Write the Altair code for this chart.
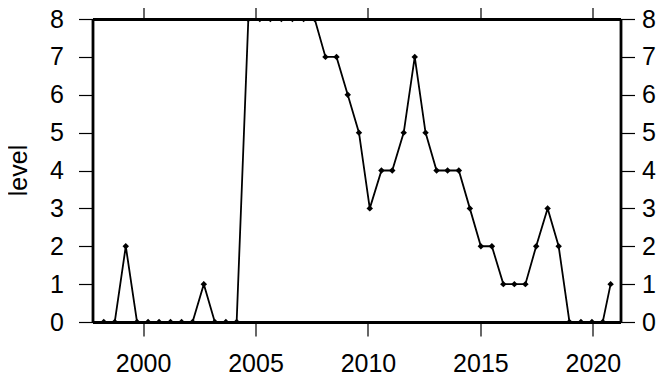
import altair as alt
import pandas as pd

years = [1998.25, 1998.74, 1999.23, 1999.73, 2000.22, 2000.71, 2001.22, 2001.71,
         2002.20, 2002.70, 2003.19, 2003.68, 2004.16, 2004.68, 2005.19, 2005.66,
         2006.15, 2006.64, 2007.14, 2007.63, 2008.11, 2008.60, 2009.10, 2009.60,
         2010.08, 2010.60, 2011.08, 2011.59, 2012.08, 2012.56, 2013.05, 2013.54,
         2014.04, 2014.53, 2015.02, 2015.51, 2016.02, 2016.51, 2017.00, 2017.48,
         2017.99, 2018.48, 2018.96, 2019.47, 2019.96, 2020.44, 2020.79]
levels = [0, 0, 2, 0, 0, 0, 0, 0, 0, 1, 0, 0, 0, 8, 8, 8, 8, 8, 8, 8, 7, 7, 6, 5,
          3, 4, 4, 5, 7, 5, 4, 4, 4, 3, 2, 2, 1, 1, 1, 2, 3, 2, 0, 0, 0, 0, 1]
x_ticks = [2000, 2005, 2010, 2015, 2020]
y_ticks = [0, 1, 2, 3, 4, 5, 6, 7, 8]

df = pd.DataFrame({"year": years, "level": levels})

xscale = alt.Scale(domain=[1997.75, 2021.23], nice=False, zero=False)
yscale = alt.Scale(domain=[0, 8], nice=False, zero=False)

FONT = "Liberation Sans"
common = dict(domain=True, domainColor="black", domainWidth=2.8, grid=False,
              tickColor="black", tickWidth=1.2, tickSize=14,
              labelColor="black", labelFont=FONT, labelFontSize=25)

x_bottom = alt.Axis(orient="bottom", values=x_ticks, format="d", title=None,
                    labelPadding=15, labelFlush=False, labelOverlap=False, **common)
x_top = alt.Axis(orient="top", values=x_ticks, labels=False, title=None, **common)
y_left = alt.Axis(orient="left", values=y_ticks, title="level", labelPadding=15,
                  titleFont=FONT, titleFontSize=25, titleFontWeight="normal",
                  titleColor="black", titleX=-66, titleY=151, titleAngle=270,
                  titleBaseline="alphabetic", titleAlign="center",
                  labelFlush=False, labelOverlap=False, **common)
y_right = alt.Axis(orient="right", values=y_ticks, title=None, labelPadding=7,
                   labelFlush=False, labelOverlap=False, **common)

base = alt.Chart(df)
line = base.mark_line(color="black", strokeWidth=1.8, clip=True).encode(
    x=alt.X("year:Q", scale=xscale, axis=x_bottom),
    y=alt.Y("level:Q", scale=yscale, axis=y_left),
)
pts = base.mark_point(shape="diamond", filled=True, size=42, color="black",
                      opacity=1, clip=True).encode(
    x=alt.X("year:Q", scale=xscale, axis=x_top),
    y=alt.Y("level:Q", scale=yscale, axis=y_right),
)

chart = alt.layer(line, pts).resolve_axis(x="independent", y="independent").properties(
    width=528, height=303,
    autosize=alt.AutoSizeParams(type="none"),
    padding={"left": 84.5, "top": 11, "right": 37, "bottom": 55},
).configure_view(strokeOpacity=0).configure(background="white")

chart.save("out.html", embed_options={"renderer": "svg", "actions": False})
